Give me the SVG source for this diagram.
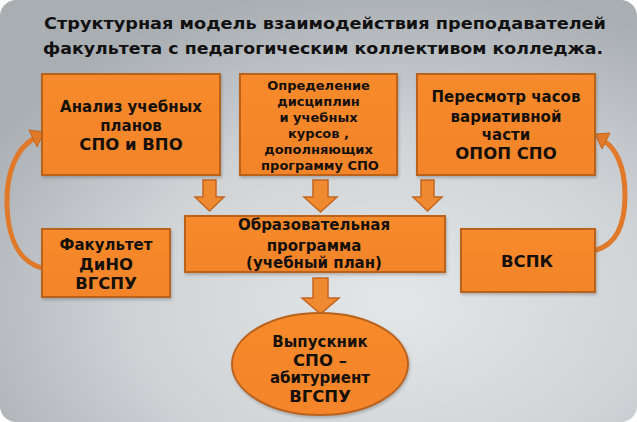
<svg xmlns="http://www.w3.org/2000/svg" width="637" height="422" viewBox="0 0 637 422">
<defs>
<radialGradient id="bg" cx="0.62" cy="0.72" r="0.75">
<stop offset="0" stop-color="#e4e7e8"/>
<stop offset="0.55" stop-color="#cfd3d6"/>
<stop offset="1" stop-color="#a9aeb3"/>
</radialGradient>
<linearGradient id="og" x1="0" y1="0" x2="0" y2="1">
<stop offset="0" stop-color="#f78a2c"/>
<stop offset="1" stop-color="#f3842a"/>
</linearGradient>
<filter id="sh" x="-10%" y="-10%" width="120%" height="130%">
<feDropShadow dx="1" dy="2" stdDeviation="1.5" flood-color="#555" flood-opacity="0.35"/>
</filter>
<style>
.box{fill:url(#og);stroke:#b8621e;stroke-width:2;filter:url(#sh)}
.t{font-family:"DejaVu Sans",Verdana,sans-serif;font-weight:bold;fill:#141008;text-anchor:middle;font-size:15px}
.s{font-size:13px}
.b{font-size:16.5px}
.title{font-family:"DejaVu Sans",Verdana,sans-serif;font-weight:bold;fill:#111;text-anchor:middle;font-size:16.5px}
.arr{fill:#f08a30;stroke:#c4661f;stroke-width:1.5}
.curve{fill:none;stroke:#e07a2a;stroke-width:5;stroke-linecap:round}
</style>
</defs>
<rect x="0" y="0" width="637" height="422" fill="#ffffff"/>
<rect x="0" y="0" width="637" height="422" rx="16" fill="url(#bg)"/>

<g id="title">
<text class="title" x="325" y="29" textLength="562" lengthAdjust="spacingAndGlyphs">Структурная  модель  взаимодействия преподавателей</text>
<text class="title" x="323" y="54" textLength="560" lengthAdjust="spacingAndGlyphs">факультета с педагогическим коллективом колледжа.</text>
</g>

<g id="connectors">
<polygon class="arr" points="203,180 216,180 216,197 224,197 209.5,211 195,197 203,197"/>
<polygon class="arr" points="313,180 328,180 328,197 337,197 320.5,212 304,197 313,197"/>
<polygon class="arr" points="421,180 434,180 434,197 442,197 427.5,211 413,197 421,197"/>
<polygon class="arr" points="313,278 328,278 328,298 339,298 320.5,314 302,298 313,298"/>
<path class="curve" d="M42 268 C20 262 8 240 7 205 C6 170 18 148 33 139"/>
<polygon fill="#e07a2a" stroke="#c4661f" stroke-width="1" points="44,132 29,130 37,147"/>
<path class="curve" d="M596 250 C614 245 625 228 625 195 C625 165 615 148 604 141"/>
<polygon fill="#e07a2a" stroke="#c4661f" stroke-width="1" points="595,134 610,133 602,149"/>
</g>

<g id="nodeA">
<rect class="box" x="42" y="74" width="178" height="101"/>
<text class="t" x="131" y="112">Анализ учебных</text>
<text class="t" x="131" y="131">планов</text>
<text class="t b" x="131" y="150">СПО и ВПО</text>
</g>

<g id="nodeB">
<rect class="box" x="240" y="74" width="157" height="101"/>
<text class="t s" x="318.5" y="89.5">Определение</text>
<text class="t s" x="318.5" y="105.5">дисциплин</text>
<text class="t s" x="318.5" y="121.5">и учебных</text>
<text class="t s" x="318.5" y="138">курсов ,</text>
<text class="t s" x="318.5" y="154">дополняющих</text>
<text class="t s" x="320" y="170">программу СПО</text>
</g>

<g id="nodeC">
<rect class="box" x="417" y="74" width="178" height="101"/>
<text class="t" x="506" y="102">Пересмотр часов</text>
<text class="t" x="506" y="122">вариативной</text>
<text class="t" x="506" y="140">части</text>
<text class="t b" x="506" y="159">ОПОП СПО</text>
</g>

<g id="nodeD">
<rect class="box" x="185" y="216" width="260" height="56"/>
<text class="t" x="314" y="230">Образовательная</text>
<text class="t" x="314" y="251">программа</text>
<text class="t" x="314" y="268">(учебный план)</text>
</g>

<g id="nodeE">
<rect class="box" x="42" y="229" width="128" height="68"/>
<text class="t" x="106" y="250">Факультет</text>
<text class="t b" x="106" y="270">ДиНО</text>
<text class="t b" x="106" y="289">ВГСПУ</text>
</g>

<g id="nodeF">
<rect class="box" x="461" y="229" width="134" height="63"/>
<text class="t b" x="527" y="267">ВСПК</text>
</g>

<g id="nodeG">
<ellipse class="box" cx="320" cy="364" rx="88" ry="51"/>
<text class="t" x="320" y="347">Выпускник</text>
<text class="t b" x="320" y="366">СПО –</text>
<text class="t" x="320" y="383">абитуриент</text>
<text class="t b" x="320" y="402">ВГСПУ</text>
</g>
</svg>
